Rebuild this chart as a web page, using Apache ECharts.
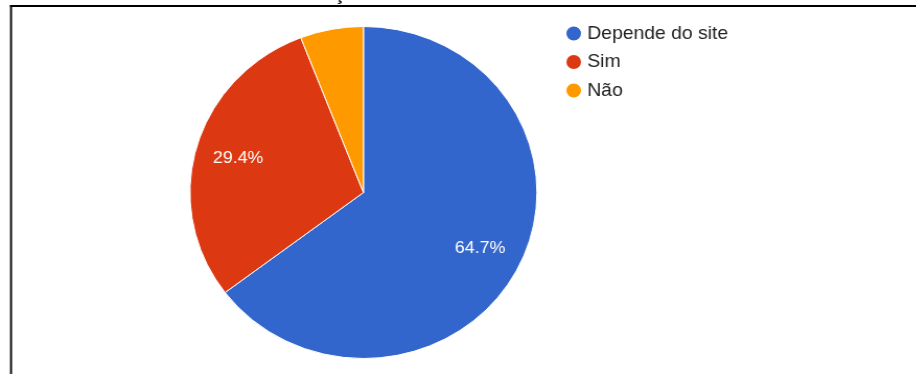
<!DOCTYPE html>
<html>
<head>
<meta charset="utf-8">
<script src="https://cdn.jsdelivr.net/npm/echarts@6/dist/echarts.min.js"></script>
<style>
  html, body { margin: 0; padding: 0; background: #fff; overflow: hidden; }
  /* the chart is drawn slightly narrower and widened horizontally */
  #chart { width: 876.6px; height: 374px; transform: scaleX(1.045); transform-origin: 0 0; }
</style>
</head>
<body>
<div id="chart"></div>
<script>
// Answers and their response counts
const categories = ['Depende do site', 'Sim', 'Não'];
const counts = [11, 5, 1];
const colors = ['#3366cc', '#dc3912', '#ff9900'];
const showLabel = [true, true, false];

const pieCenter = [347.8, 192.5];
const pieRadius = 166;

const chart = echarts.init(document.getElementById('chart'));

chart.setOption({
  backgroundColor: '#ffffff',
  animation: false,
  textStyle: { fontFamily: 'Liberation Sans, Arial, sans-serif' },
  legend: {
    orient: 'vertical',
    left: 535,
    top: 19,
    itemGap: 9.5,
    itemWidth: 16,
    itemHeight: 16,
    icon: 'circle',
    textStyle: { fontSize: 18.5, color: '#222222', padding: [0, 0, 0, 0] },
    data: categories
  },
  series: [{
    type: 'pie',
    center: pieCenter,
    radius: pieRadius,
    startAngle: 90,
    clockwise: true,
    percentPrecision: 1,
    label: {
      position: 'inside',
      formatter: '{d}%',
      color: '#ffffff',
      fontSize: 17,
      fontFamily: 'Liberation Sans, Arial, sans-serif'
    },
    // push labels further out from the centre than the default half-radius
    labelLayout: function (p) {
      const r = p.labelRect;
      const lx = r.x + r.width / 2;
      const ly = r.y + r.height / 2;
      return { dx: (lx - pieCenter[0]) * 0.45, dy: (ly - pieCenter[1]) * 0.45 };
    },
    itemStyle: { borderColor: '#ffffff', borderWidth: 1 },
    emphasis: { disabled: true },
    data: categories.map((name, i) => ({
      name: name,
      value: counts[i],
      itemStyle: { color: colors[i] },
      label: { show: showLabel[i] }
    }))
  }],
  graphic: [
    // clipped title glyph above the frame
    { type: 'text', left: 320, top: -14, style: { text: 'ç', font: 'bold 18px Liberation Sans, Arial, sans-serif', fill: '#000' }, z: 1 },
    { type: 'rect', shape: { x: 9.6, y: 5, width: 870, height: 2 }, style: { fill: '#000' }, z: 10 },
    { type: 'rect', shape: { x: 9.6, y: 5, width: 1.9, height: 369 }, style: { fill: '#000' }, z: 10 }
  ]
});
</script>
</body>
</html>
